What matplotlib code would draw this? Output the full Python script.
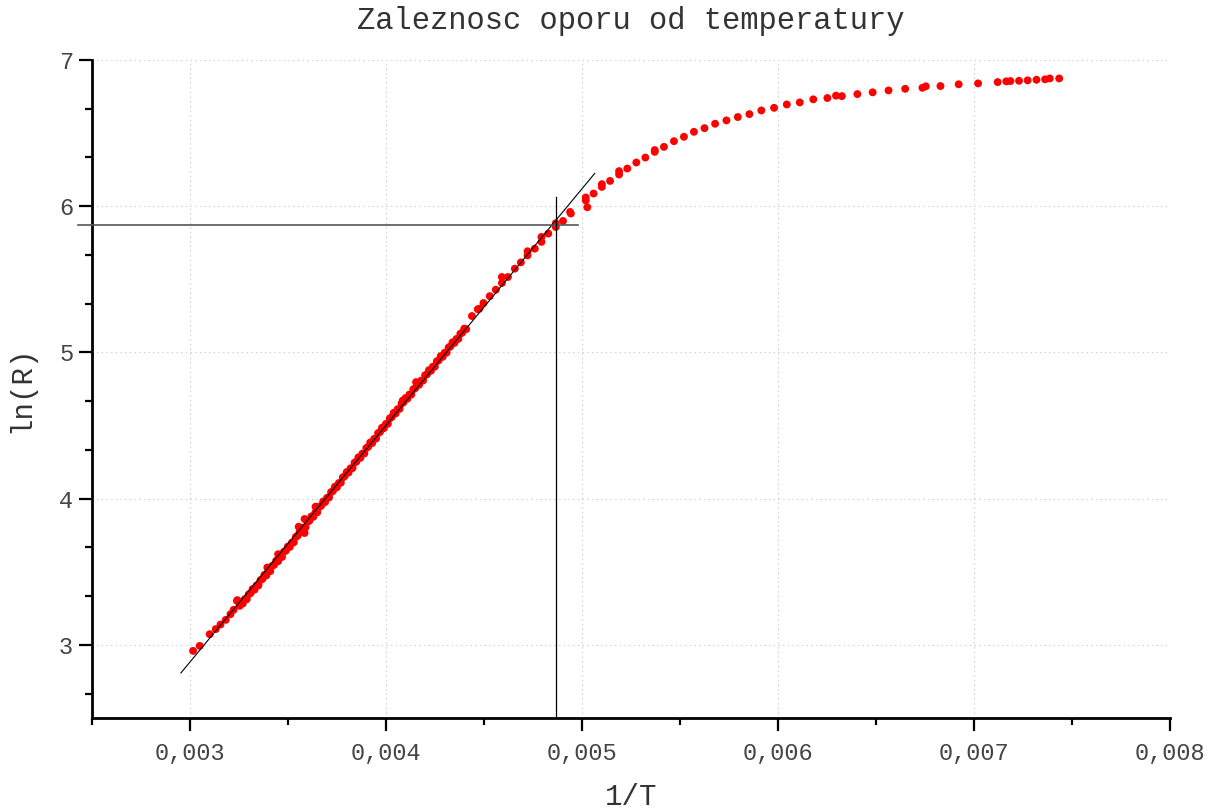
import matplotlib
matplotlib.use("Agg")
import matplotlib.pyplot as plt
from matplotlib.ticker import MultipleLocator, FuncFormatter

plt.rcParams["font.family"] = ["Liberation Mono", "DejaVu Sans Mono"]

# ── dane: początek (kilka punktów), gęsta część liniowa, końcówka i zakrzywienie ──
x_start = [0.003016, 0.003050, 0.003101, 0.003132, 0.003156, 0.003183, 0.003207,
           0.003223, 0.003240, 0.003254, 0.003242, 0.003395, 0.003450, 0.003555,
           0.003585, 0.003585, 0.003641, 0.004086, 0.004154]
y_start = [2.959, 2.993, 3.073, 3.108, 3.139, 3.171, 3.210,
           3.240, 3.301, 3.267, 3.306, 3.529, 3.620, 3.808,
           3.861, 3.765, 3.945, 4.671, 4.797]

x_dense = [0.00326, 0.00327, 0.00328, 0.00329, 0.00330, 0.00331, 0.00332, 0.00333,
           0.00334, 0.00335, 0.00336, 0.00337, 0.00338, 0.00339, 0.00340, 0.00341,
           0.00342, 0.00343, 0.00344, 0.00345, 0.00346, 0.00347, 0.00348, 0.00349,
           0.00350, 0.00351, 0.00352, 0.00353, 0.00354, 0.00355, 0.00356, 0.00357,
           0.00358, 0.00359, 0.00360, 0.00361, 0.00362, 0.00363, 0.00364, 0.00365,
           0.00366, 0.00367, 0.00368, 0.00369, 0.00370, 0.00371, 0.00372, 0.00373,
           0.00374, 0.00375, 0.00376, 0.00377, 0.00378, 0.00379, 0.00380, 0.00381,
           0.00382, 0.00383, 0.00384, 0.00385, 0.00386, 0.00387, 0.00388, 0.00389,
           0.00390, 0.00391, 0.00392, 0.00393, 0.00394, 0.00395, 0.00396, 0.00397,
           0.00398, 0.00399, 0.00400, 0.00401, 0.00402, 0.00403, 0.00404, 0.00405,
           0.00406, 0.00407, 0.00408, 0.00409, 0.00410, 0.00411, 0.00412, 0.00413,
           0.00414, 0.00415, 0.00416, 0.00417, 0.00418, 0.00419, 0.00420, 0.00421,
           0.00422, 0.00423, 0.00424, 0.00425, 0.00426, 0.00427, 0.00428, 0.00429,
           0.00430, 0.00431, 0.00432, 0.00433, 0.00434, 0.00435, 0.00436, 0.00437,
           0.00438, 0.00439, 0.00440, 0.00441]
y_dense = [3.288, 3.283, 3.313, 3.312, 3.346, 3.354, 3.382, 3.378,
           3.406, 3.407, 3.443, 3.451, 3.479, 3.475, 3.503, 3.504,
           3.540, 3.548, 3.576, 3.572, 3.600, 3.601, 3.637, 3.645,
           3.673, 3.670, 3.699, 3.701, 3.738, 3.747, 3.776, 3.773,
           3.802, 3.804, 3.841, 3.850, 3.879, 3.876, 3.905, 3.907,
           3.943, 3.952, 3.981, 3.977, 4.006, 4.008, 4.044, 4.053,
           4.082, 4.078, 4.107, 4.109, 4.145, 4.154, 4.182, 4.179,
           4.208, 4.209, 4.246, 4.254, 4.283, 4.279, 4.308, 4.309,
           4.346, 4.355, 4.384, 4.380, 4.409, 4.411, 4.448, 4.456,
           4.485, 4.482, 4.511, 4.512, 4.549, 4.558, 4.587, 4.583,
           4.612, 4.614, 4.651, 4.659, 4.688, 4.684, 4.712, 4.712,
           4.748, 4.756, 4.784, 4.779, 4.807, 4.808, 4.844, 4.851,
           4.879, 4.875, 4.903, 4.903, 4.939, 4.947, 4.975, 4.970,
           4.998, 4.999, 5.034, 5.042, 5.069, 5.065, 5.092, 5.093,
           5.128, 5.136, 5.163, 5.159]

x_upper = [0.004439, 0.004469, 0.004477, 0.004498, 0.004530, 0.004561, 0.004592,
           0.004592, 0.004623, 0.004658, 0.004689, 0.004723, 0.004723, 0.004760,
           0.004794, 0.004794, 0.004829, 0.004867, 0.004867]
y_upper = [5.249, 5.295, 5.299, 5.338, 5.385, 5.429, 5.475,
           5.516, 5.516, 5.573, 5.616, 5.664, 5.692, 5.710,
           5.756, 5.790, 5.813, 5.858, 5.884]

x_curve = [0.004904, 0.004940, 0.004944, 0.005020, 0.005020, 0.005028, 0.005060,
           0.005102, 0.005102, 0.005144, 0.005190, 0.005190, 0.005232, 0.005278,
           0.005324, 0.005372, 0.005372, 0.005419, 0.005470, 0.005521, 0.005572,
           0.005626, 0.005680, 0.005738, 0.005796, 0.005855, 0.005916, 0.005981,
           0.006046, 0.006112, 0.006181, 0.006253, 0.006297, 0.006327, 0.006406,
           0.006484, 0.006565, 0.006650, 0.006738, 0.006755, 0.006830, 0.006923,
           0.007022, 0.007122, 0.007166, 0.007187, 0.007231, 0.007275, 0.007320,
           0.007364, 0.007388, 0.007436]
y_curve = [5.899, 5.961, 5.950, 6.060, 6.040, 5.993, 6.087,
           6.151, 6.132, 6.173, 6.240, 6.217, 6.258, 6.299,
           6.333, 6.384, 6.372, 6.406, 6.445, 6.475, 6.509,
           6.534, 6.564, 6.587, 6.610, 6.630, 6.655, 6.673,
           6.696, 6.710, 6.731, 6.740, 6.756, 6.753, 6.767,
           6.779, 6.792, 6.803, 6.810, 6.820, 6.822, 6.834,
           6.840, 6.849, 6.854, 6.856, 6.858, 6.861, 6.865,
           6.868, 6.874, 6.874]

# dopasowanie liniowe i linie pomocnicze
fit_x = [0.002954, 0.005066]
fit_y = [2.808, 6.225]
h_line_y = 5.875
h_line_x = [0.00243, 0.00498]
v_line_x = 0.00487
v_line_y = [2.5, 6.064]

fig = plt.figure(figsize=(12.21, 8.11), dpi=100)
ax = fig.add_axes([0.0753, 0.1147, 0.8827, 0.8113])

ax.grid(True, which="major", color="#cccccc", linestyle=(0, (1.2, 3)), linewidth=0.8)
ax.set_axisbelow(True)

for xs, ys in [(x_start, y_start), (x_dense, y_dense), (x_upper, y_upper), (x_curve, y_curve)]:
    ax.scatter(xs, ys, s=32, color="#ff0000", edgecolors="none", zorder=3)

ax.plot(fit_x, fit_y, color="black", linewidth=0.8, zorder=4)
ax.plot(h_line_x, [h_line_y, h_line_y], color="#555555", linewidth=1.2, zorder=4, clip_on=False)
ax.plot([v_line_x, v_line_x], v_line_y, color="black", linewidth=0.9, zorder=4)

ax.set_xlim(0.0025, 0.008)
ax.set_ylim(2.5, 7)
ax.xaxis.set_major_locator(MultipleLocator(0.001))
ax.xaxis.set_minor_locator(MultipleLocator(0.0005))
ax.yaxis.set_major_locator(MultipleLocator(1))
ax.yaxis.set_minor_locator(MultipleLocator(1 / 3))
ax.xaxis.set_major_formatter(FuncFormatter(lambda v, p: f"{v:.3f}".replace(".", ",")))
ax.yaxis.set_major_formatter(FuncFormatter(lambda v, p: f"{v:.0f}"))

for side in ["top", "right"]:
    ax.spines[side].set_visible(False)
for side in ["left", "bottom"]:
    ax.spines[side].set_linewidth(2.0)

ax.tick_params(which="major", direction="out", length=9.5, width=1.6,
               labelsize=17, labelcolor="#444444")
ax.tick_params(which="minor", direction="out", length=5, width=1.6)
ax.tick_params(axis="x", which="major", pad=8)
ax.tick_params(axis="y", which="major", pad=4)

ax.set_title("Zaleznosc oporu od temperatury", fontsize=22, pad=22, color="#333333")
ax.set_xlabel("1/T", fontsize=21, labelpad=13, color="#333333")
ax.set_ylabel("ln(R)", fontsize=21, labelpad=17, color="#333333")

fig.savefig("out.png", dpi=100)
